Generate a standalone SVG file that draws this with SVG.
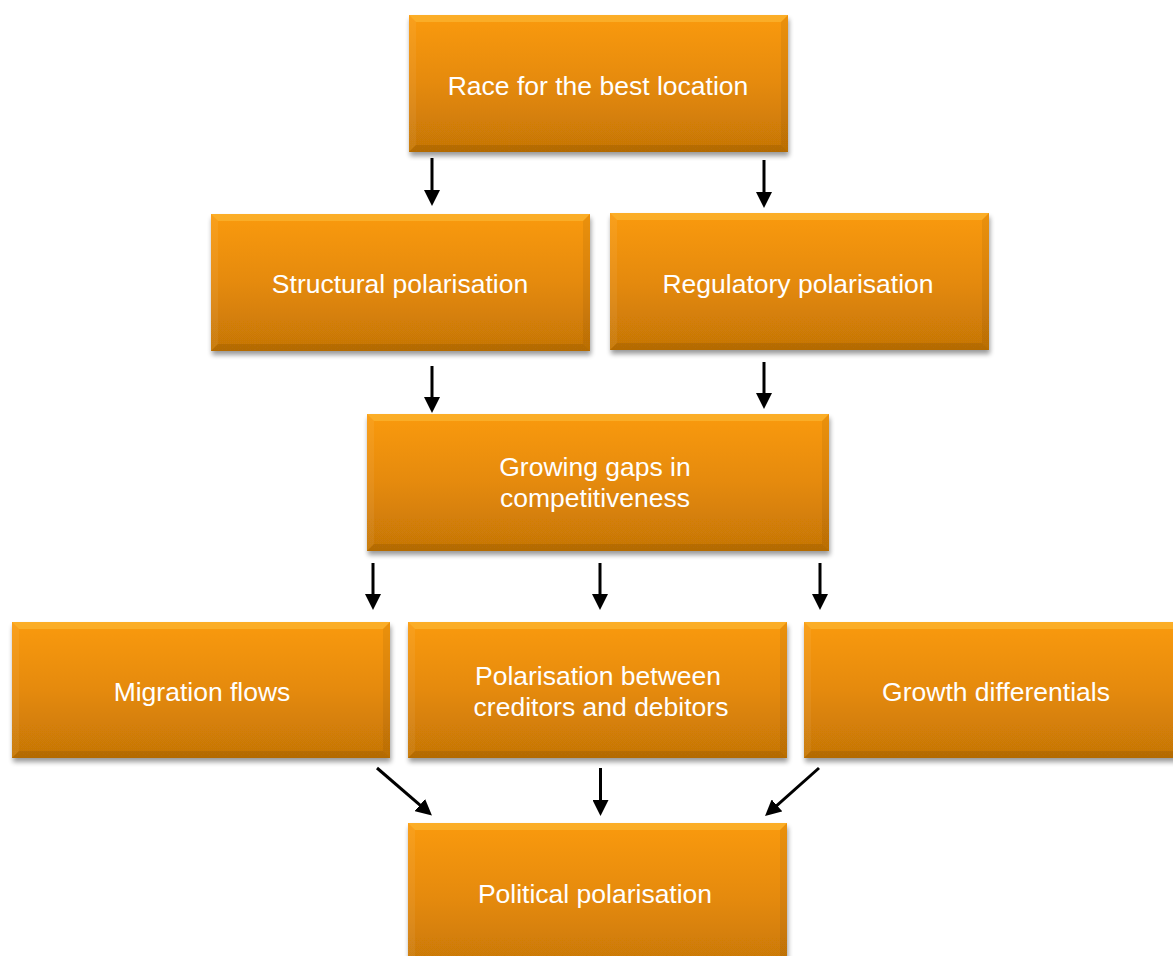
<svg xmlns="http://www.w3.org/2000/svg" width="1173" height="956" viewBox="0 0 1173 956">
<defs>
<linearGradient id="fill" x1="0" y1="0" x2="0" y2="1">
<stop offset="0" stop-color="#FA9A0C"/>
<stop offset="0.5" stop-color="#E58A08"/>
<stop offset="1" stop-color="#C57506"/>
</linearGradient>
<filter id="shadow" x="-5%" y="-10%" width="110%" height="130%">
<feGaussianBlur in="SourceAlpha" stdDeviation="2.5"/>
<feOffset dx="1" dy="4" result="b"/>
<feComponentTransfer><feFuncA type="linear" slope="0.4"/></feComponentTransfer>
<feMerge><feMergeNode/><feMergeNode in="SourceGraphic"/></feMerge>
</filter>
<marker id="ah" viewBox="0 0 16 16" markerWidth="16" markerHeight="16" refX="6" refY="8" orient="auto" markerUnits="userSpaceOnUse">
<path d="M0,0 L16,8 L0,16 Z" fill="#000"/>
</marker>
</defs>
<style>
.box{fill:url(#fill);filter:url(#shadow)}
.bt{fill:#FFD45A;opacity:0.35}
.bl{fill:#FFFFFF;opacity:0.06}
.br{fill:#000000;opacity:0.06}
.bb{fill:#000000;opacity:0.09}
.lbl{font-family:"Liberation Sans",Arial,sans-serif;font-size:26.5px;fill:#FFFFFF;text-anchor:middle}
.con line{stroke:#000;stroke-width:3;marker-end:url(#ah)}
</style>
<rect width="1173" height="956" fill="#FFFFFF"/>

<g id="n-race">
<rect class="box" x="409" y="15" width="379" height="137"/>
<path class="bt" d="M409,15 L788,15 L781,22 L416,22 Z"/>
<path class="bl" d="M409,15 L416,22 L416,145 L409,152 Z"/>
<path class="br" d="M788,15 L788,152 L781,145 L781,22 Z"/>
<path class="bb" d="M409,152 L416,145 L781,145 L788,152 Z"/>
<text class="lbl" x="598" y="95">Race for the best location</text>
</g>

<g id="n-structural">
<rect class="box" x="211" y="214" width="379" height="137"/>
<path class="bt" d="M211,214 L590,214 L583,221 L218,221 Z"/>
<path class="bl" d="M211,214 L218,221 L218,344 L211,351 Z"/>
<path class="br" d="M590,214 L590,351 L583,344 L583,221 Z"/>
<path class="bb" d="M211,351 L218,344 L583,344 L590,351 Z"/>
<text class="lbl" x="400" y="293">Structural polarisation</text>
</g>

<g id="n-regulatory">
<rect class="box" x="610" y="213" width="379" height="137"/>
<path class="bt" d="M610,213 L989,213 L982,220 L617,220 Z"/>
<path class="bl" d="M610,213 L617,220 L617,343 L610,350 Z"/>
<path class="br" d="M989,213 L989,350 L982,343 L982,220 Z"/>
<path class="bb" d="M610,350 L617,343 L982,343 L989,350 Z"/>
<text class="lbl" x="798" y="293">Regulatory polarisation</text>
</g>

<g id="n-gaps">
<rect class="box" x="367" y="414" width="462" height="137"/>
<path class="bt" d="M367,414 L829,414 L822,421 L374,421 Z"/>
<path class="bl" d="M367,414 L374,421 L374,544 L367,551 Z"/>
<path class="br" d="M829,414 L829,551 L822,544 L822,421 Z"/>
<path class="bb" d="M367,551 L374,544 L822,544 L829,551 Z"/>
<text class="lbl" x="595" y="476">Growing gaps in</text>
<text class="lbl" x="595" y="507">competitiveness</text>
</g>

<g id="n-migration">
<rect class="box" x="12" y="622" width="378" height="136"/>
<path class="bt" d="M12,622 L390,622 L383,629 L19,629 Z"/>
<path class="bl" d="M12,622 L19,629 L19,751 L12,758 Z"/>
<path class="br" d="M390,622 L390,758 L383,751 L383,629 Z"/>
<path class="bb" d="M12,758 L19,751 L383,751 L390,758 Z"/>
<text class="lbl" x="202" y="701">Migration flows</text>
</g>

<g id="n-creditors">
<rect class="box" x="408" y="622" width="379" height="136"/>
<path class="bt" d="M408,622 L787,622 L780,629 L415,629 Z"/>
<path class="bl" d="M408,622 L415,629 L415,751 L408,758 Z"/>
<path class="br" d="M787,622 L787,758 L780,751 L780,629 Z"/>
<path class="bb" d="M408,758 L415,751 L780,751 L787,758 Z"/>
<text class="lbl" x="598" y="685">Polarisation between</text>
<text class="lbl" x="601" y="716">creditors and debitors</text>
</g>

<g id="n-growth">
<rect class="box" x="804" y="622" width="379" height="136"/>
<path class="bt" d="M804,622 L1183,622 L1176,629 L811,629 Z"/>
<path class="bl" d="M804,622 L811,629 L811,751 L804,758 Z"/>
<path class="bb" d="M804,758 L811,751 L1176,751 L1183,758 Z"/>
<text class="lbl" x="996" y="701">Growth differentials</text>
</g>

<g id="n-political">
<rect class="box" x="408" y="823" width="379" height="150"/>
<path class="bt" d="M408,823 L787,823 L780,830 L415,830 Z"/>
<path class="bl" d="M408,823 L415,830 L415,973 L408,973 Z"/>
<path class="br" d="M787,823 L787,973 L780,973 L780,830 Z"/>
<text class="lbl" x="595" y="903">Political polarisation</text>
</g>

<g id="connectors" class="con">
<line x1="432" y1="158" x2="432" y2="196"/>
<line x1="764" y1="160" x2="764" y2="198"/>
<line x1="432" y1="366" x2="432" y2="403"/>
<line x1="764" y1="362" x2="764" y2="399"/>
<line x1="373" y1="563" x2="373" y2="600"/>
<line x1="600" y1="563" x2="600" y2="600"/>
<line x1="820" y1="563" x2="820" y2="600"/>
<line x1="377" y1="768" x2="424.4" y2="808.9"/>
<line x1="600.5" y1="768" x2="600.5" y2="806"/>
<line x1="819" y1="768" x2="772.5" y2="809.4"/>
</g>
</svg>
